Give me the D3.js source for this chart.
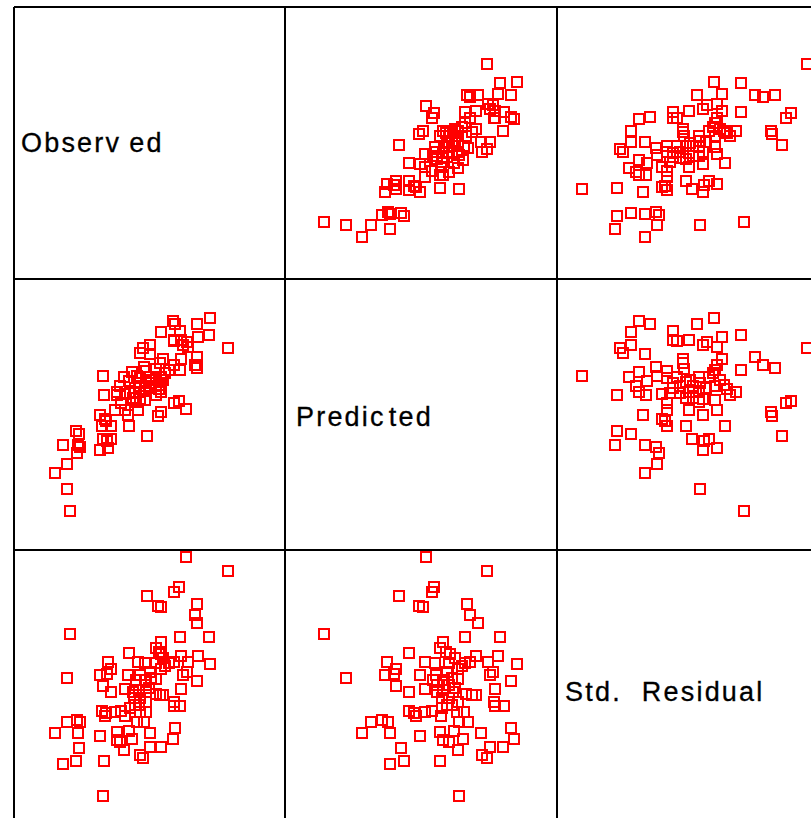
<!DOCTYPE html>
<html>
<head>
<meta charset="utf-8">
<script src="https://cdn.jsdelivr.net/npm/d3@7"></script>
<style>
  html, body { margin: 0; padding: 0; background: #fff; overflow: hidden; }
  svg { display: block; }
</style>
</head>
<body>
<svg id="chart" width="811" height="818"></svg>
<script>
// Variables in the scatterplot matrix (row/column order)
const variables = ["Observed", "Predicted", "Std. Residual"];

// Per-case values
const observed = [
  27.4, 31.6, 26.7, 26.2, 23.5, 28.5, 24.6, 24.9, 28.3, 28.5,
  15.8, 26.8, 29.7, 24.9, 21.7, 24.7, 24.9, 19.6, 22.6, 26.9,
  28.6, 23.3, 24.4, 25.7, 26.2, 27.6, 29.8, 19.9, 18.8, 19.5,
  21.6, 22.8, 23.8, 24.9, 25.3, 27.1, 27.5, 15.5, 24.4, 28.5,
  19.1, 21.3, 22.4, 23.4, 26.9, 19.9, 22.1, 23.4, 24.4, 24.8,
  25.1, 22.2, 22.8, 23.4, 26.2, 26.2, 26.8, 19.0, 19.4, 19.3,
  20.3, 20.9, 21.3, 22.7, 23.4, 15.5, 16.5, 16.8, 22.5, 23.2,
  26.3, 14.3, 16.6, 18.8, 20.5, 20.5, 20.8, 21.7, 22.0, 23.8,
  26.1, 16.7, 21.2, 23.8, 24.9, 22.8, 23.1, 15.1, 16.4, 19.2,
  19.1, 24.4, 25.1, 22.4, 23.3, 23.9, 22.7, 23.7, 22.3, 21.8,
  22.8
];
const predicted = [
  24.1, 30.2, 24.9, 24.7, 21.4, 28.2, 23.4, 23.8, 28.5, 29.3,
  13.9, 28.0, 31.5, 25.8, 22.4, 26.1, 26.5, 20.2, 24.0, 29.1,
  31.3, 25.0, 26.4, 28.0, 28.5, 30.3, 33.2, 21.1, 20.0, 20.9,
  23.5, 25.1, 26.2, 27.3, 27.7, 30.5, 30.8, 16.1, 27.3, 32.6,
  21.1, 24.0, 25.2, 26.4, 31.0, 22.4, 25.2, 26.8, 28.1, 28.7,
  29.1, 25.7, 26.4, 27.3, 30.9, 31.0, 31.9, 22.4, 22.9, 23.1,
  24.0, 24.7, 25.6, 26.7, 27.9, 18.6, 19.7, 20.3, 27.4, 28.3,
  32.6, 17.7, 20.5, 23.5, 25.5, 25.8, 26.4, 26.9, 27.8, 29.6,
  32.9, 21.6, 27.3, 30.5, 31.8, 29.7, 30.2, 20.5, 21.9, 25.5,
  27.4, 25.5, 27.0, 24.8, 25.9, 26.7, 25.8, 27.0, 26.2, 25.7,
  27.2
];
const stdResidual = [
   3.21,  2.87,  2.46,  2.33,  2.25,  2.05,  1.98,  1.97,  1.77,  1.56,
   1.29,  1.22,  1.22,  1.09,  0.81,  0.85,  0.79,  0.60,  0.60,  0.75,
   0.75,  0.56,  0.56,  0.56,  0.60,  0.60,  0.54,  0.42,  0.26,  0.29,
   0.26,  0.27,  0.34,  0.42,  0.50,  0.27,  0.35,  0.19,  0.17,  0.12,
  -0.01, -0.08,  0.02,  0.02, -0.08, -0.16, -0.16, -0.16, -0.21, -0.23,
  -0.23, -0.31, -0.31, -0.40, -0.40, -0.50, -0.50, -0.63, -0.69, -0.77,
  -0.65, -0.63, -0.77, -0.48, -0.65, -0.90, -0.85, -0.91, -0.90, -0.91,
  -1.06, -1.19, -1.19, -1.25, -1.16, -1.35, -1.41, -1.13, -1.33, -1.19,
  -1.33, -1.55, -1.60, -1.54, -1.54, -1.73, -1.81, -1.95, -1.88, -1.88,
  -2.77,  0.94,  0.69,  0.15,  0.15,  0.19, -0.10, -0.06, -0.48, -0.56,
  -0.65
];

// Diagonal labels, split where the label shows a wider gap
const labelParts = [["Observ", "ed"], ["Predic", "ted"], ["Std.", "Residual"]];

const columns = [observed, predicted, stdResidual];
const domains = [[10.2, 37.3], [10, 37.1], [-3.3875, 3.3875]];

// Grid geometry
const lineX = [14, 285, 557, 828];
const lineY = [7, 279, 550, 821];
const cell = 271;

const svg = d3.select("#chart");

// one scale per variable, mapping into a cell-sized span
const scales = domains.map(d => d3.scaleLinear().domain(d).range([0, cell]));

const rows = d3.range(observed.length).map(i => columns.map(c => c[i]));

const panels = [];
for (let r = 0; r < 3; r++) for (let c = 0; c < 3; c++) panels.push({ r, c });

const g = svg.append("g");

panels.forEach(({ r, c }) => {
  const pg = g.append("g").attr("transform", `translate(${lineX[c]},${lineY[r]})`);
  if (r === c) {
    const offs = [[7, 145], [11, 147], [8, 151]][r];
    const gaps = [8, 3, 20][r];
    const t = pg.append("text")
      .attr("x", offs[0]).attr("y", offs[1])
      .attr("font-family", "Liberation Sans, Arial, sans-serif")
      .attr("font-size", 27)
      .attr("letter-spacing", 2.2)
      .attr("stroke", "#000")
      .attr("stroke-width", 0.3)
      .attr("fill", "#000");
    t.append("tspan").text(labelParts[r][0]);
    t.append("tspan").attr("dx", gaps).text(labelParts[r][1]);
    return;
  }
  const sx = scales[c];
  const sy = scales[r];
  pg.selectAll("rect")
    .data(rows)
    .join("rect")
    .attr("x", d => Math.round(sx(d[c]) - 5))
    .attr("y", d => Math.round(cell - sy(d[r]) - 5))
    .attr("width", 10)
    .attr("height", 10)
    .attr("fill", "none")
    .attr("stroke", "#ff0000")
    .attr("stroke-width", 2.6)
    .attr("shape-rendering", "crispEdges");
});

// matrix frame lines
g.selectAll("line.v").data(lineX).join("line").attr("class", "v")
  .attr("x1", d => d).attr("x2", d => d)
  .attr("y1", lineY[0]).attr("y2", lineY[3])
  .attr("stroke", "#000").attr("stroke-width", 2);
g.selectAll("line.h").data(lineY).join("line").attr("class", "h")
  .attr("x1", lineX[0]).attr("x2", lineX[3])
  .attr("y1", d => d).attr("y2", d => d)
  .attr("stroke", "#000").attr("stroke-width", 2);
</script>
</body>
</html>
